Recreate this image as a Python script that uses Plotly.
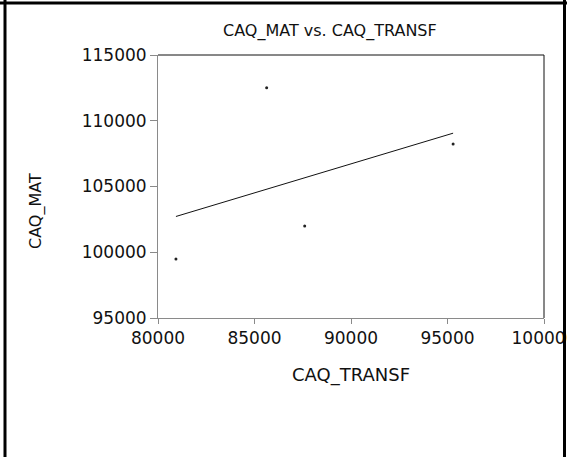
import numpy as np
import plotly.graph_objects as go

# Observations
caq_transf = [80930, 85630, 87600, 95290]
caq_mat = [99490, 112510, 102000, 108230]

x_ticks = [80000, 85000, 90000, 95000, 100000]
y_ticks = [95000, 100000, 105000, 110000, 115000]

# Least-squares fit line across the observed range
slope, intercept = np.polyfit(caq_transf, caq_mat, 1)
fit_x = [min(caq_transf), max(caq_transf)]
fit_y = [slope * v + intercept for v in fit_x]

FONT = "DejaVu Sans, Liberation Sans, Arial, sans-serif"
AXIS_GREY = "#8a8a8a"

# plot area in pixels
L, R, T, B = 158, 544, 55, 318
PW, PH = R - L, B - T


def px(x):
    return (x - L) / PW


def py(y):
    return (B - y) / PH


fig = go.Figure()
fig.add_trace(go.Scatter(
    x=fit_x, y=fit_y, mode="lines",
    line=dict(color="#111111", width=1), showlegend=False, hoverinfo="skip",
))
fig.add_trace(go.Scatter(
    x=caq_transf, y=caq_mat, mode="markers",
    marker=dict(color="#222222", size=3, line=dict(width=0)), showlegend=False,
))

fig.update_layout(
    width=567, height=457,
    margin=dict(l=L, r=567 - R, t=T, b=457 - B, autoexpand=False),
    paper_bgcolor="white", plot_bgcolor="white",
    font=dict(family=FONT, size=16, color="#111111"),
    annotations=[
        dict(text="CAQ_MAT vs. CAQ_TRANSF", xref="paper", yref="paper",
             x=px(330), y=py(31), showarrow=False,
             xanchor="center", yanchor="middle", font=dict(size=16)),
        dict(text="CAQ_TRANSF", xref="paper", yref="paper",
             x=px(351), y=py(375), showarrow=False,
             xanchor="center", yanchor="middle", font=dict(size=18)),
        dict(text="CAQ_MAT", xref="paper", yref="paper", textangle=-90,
             x=px(36), y=py(211), showarrow=False,
             xanchor="center", yanchor="middle", font=dict(size=16)),
    ],
    shapes=[
        # top and right sides of the plot frame
        dict(type="line", xref="paper", yref="paper", x0=0, y0=1, x1=1, y1=1,
             line=dict(color="#111111", width=1)),
        dict(type="line", xref="paper", yref="paper", x0=1, y0=0, x1=1, y1=1,
             line=dict(color="#111111", width=1)),
        # outer page border (top, left, right)
        dict(type="line", xref="paper", yref="paper",
             x0=px(0), x1=px(567), y0=py(3), y1=py(3),
             line=dict(color="black", width=3)),
        dict(type="line", xref="paper", yref="paper",
             x0=px(5), x1=px(5), y0=py(0), y1=py(457),
             line=dict(color="black", width=3)),
        dict(type="line", xref="paper", yref="paper",
             x0=px(564.5), x1=px(564.5), y0=py(0), y1=py(457),
             line=dict(color="black", width=3)),
    ],
)

fig.update_xaxes(
    range=[80000, 100000], tickvals=x_ticks, tickformat="d",
    showgrid=False, zeroline=False,
    showline=True, linecolor=AXIS_GREY, linewidth=1,
    ticks="outside", ticklen=5, tickcolor=AXIS_GREY, tickwidth=1,
    ticklabeloverflow="allow", tickfont=dict(size=17),
)
fig.update_yaxes(
    range=[95000, 115000], tickvals=y_ticks, tickformat="d",
    showgrid=False, zeroline=False,
    showline=True, linecolor=AXIS_GREY, linewidth=1,
    ticks="outside", ticklen=7, tickcolor=AXIS_GREY, tickwidth=1,
    tickfont=dict(size=17),
)

fig.write_html("out.html")
